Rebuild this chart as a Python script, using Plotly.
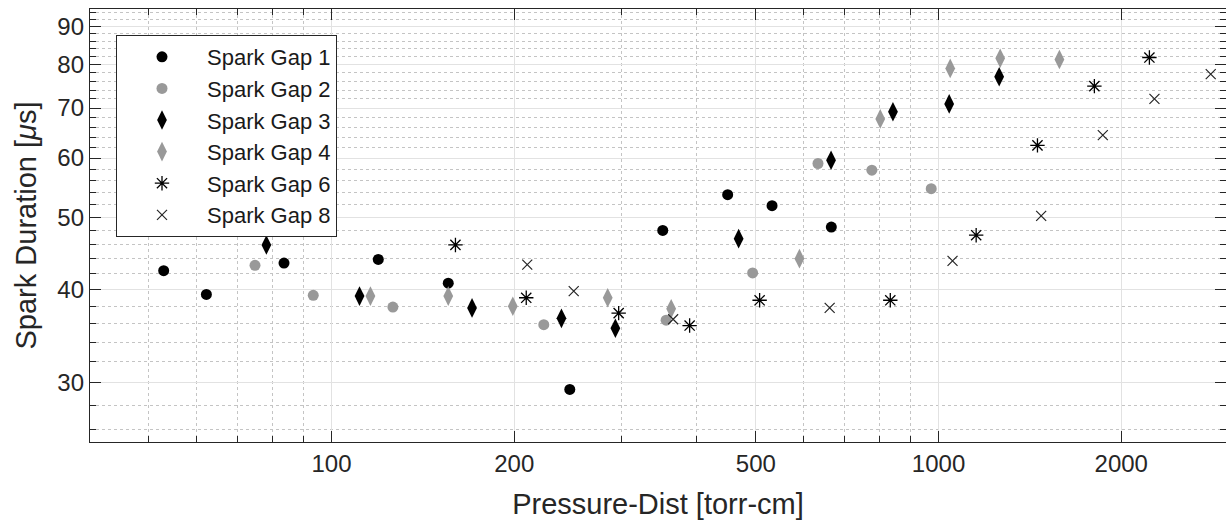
import numpy as np
import plotly.graph_objects as go

# ---- data ----
sg1_x = [52.9, 62.2, 83.5, 119.4, 155.7, 246.9, 351.3, 449.4, 531.8, 665.9]
sg1_y = [42.4, 39.4, 43.4, 43.9, 40.8, 29.4, 48.0, 53.6, 51.8, 48.5]

sg2_x = [74.8, 93.3, 126.2, 223.7, 355.8, 494.0, 633.0, 776.6, 972.7]
sg2_y = [43.1, 39.3, 37.9, 35.9, 36.4, 42.1, 59.0, 57.8, 54.6]

sg3_x = [78.1, 111.2, 170.4, 239.2, 293.5, 468.5, 665.2, 841.3, 1041.3, 1258.7]
sg3_y = [45.9, 39.2, 37.8, 36.6, 35.5, 46.8, 59.6, 69.2, 70.9, 77.1]

sg4_x = [115.9, 155.7, 198.9, 285.1, 362.7, 590.0, 801.7, 1045.4, 1263.6, 1581.9]
sg4_y = [39.2, 39.2, 38.0, 39.0, 37.7, 44.0, 67.7, 79.1, 81.6, 81.3]

sg6_x = [160.0, 209.3, 297.2, 389.0, 507.3, 832.8, 1153.5, 1455.5, 1806.3, 2225.5]
sg6_y = [45.9, 39.0, 37.2, 35.8, 38.7, 38.7, 47.3, 62.4, 74.9, 81.8]

sg8_x = [210.1, 250.6, 365.4, 661.7, 1054.6, 1476.1, 1865.0, 2268.6, 2808.5]
sg8_y = [43.2, 39.8, 36.5, 37.8, 43.7, 50.2, 64.4, 72.0, 77.7]

series_names = ["Spark Gap 1", "Spark Gap 2", "Spark Gap 3", "Spark Gap 4", "Spark Gap 6", "Spark Gap 8"]

x_tickvals = [100, 200, 500, 1000, 2000]
x_ticktext = ["100", "200", "500", "1000", "2000"]
x_minor = [50, 60, 70, 80, 90, 300, 400, 600, 700, 800, 900]

y_tickvals = [30, 40, 50, 60, 70, 80, 90]
y_ticktext = ["30", "40", "50", "60", "70", "80", "90"]
y_minor = [26, 28, 32, 34, 36, 38, 42, 44, 46, 48, 52, 54, 56, 58, 62, 64, 66, 68,
           72, 74, 76, 78, 82, 84, 86, 88, 92, 94]

# ---- styles ----
BLACK = "#000000"
GRAY = "#999999"
AX = "#262626"

styles = [
    dict(symbol="circle", size=11, color=BLACK),
    dict(symbol="circle", size=11, color=GRAY),
    dict(symbol="diamond-tall", size=14, color=BLACK),
    dict(symbol="diamond-tall", size=14, color=GRAY),
    dict(symbol="asterisk-open", size=12, color=BLACK, line=dict(width=1.3, color=BLACK)),
    dict(symbol="x-thin-open", size=10, color=AX, line=dict(width=1.2, color=AX)),
]

data = [(sg1_x, sg1_y), (sg2_x, sg2_y), (sg3_x, sg3_y), (sg4_x, sg4_y), (sg6_x, sg6_y), (sg8_x, sg8_y)]

fig = go.Figure()
for (xs, ys), name, st in zip(data, series_names, styles):
    fig.add_trace(go.Scatter(x=xs, y=ys, mode="markers", name=name, marker=st))

W, H = 1226, 527
ml, mr, mt, mb = 90, 0, 9, 85

fig.update_layout(
    width=W, height=H,
    margin=dict(l=ml, r=mr, t=mt, b=mb, pad=0),
    plot_bgcolor="white", paper_bgcolor="white",
    font=dict(family="Liberation Sans, Arial, sans-serif", color=AX),
    legend=dict(
        x=(116 - ml) / (W - ml - mr), y=(H - mb - 35) / (H - mt - mb),
        xanchor="left", yanchor="top",
        bgcolor="white", bordercolor=AX, borderwidth=1,
        font=dict(size=22, color="#1a1a1a"),
        itemwidth=80,
    ),
    showlegend=True,
)

common = dict(
    type="log", ticks="inside", ticklen=11, tickwidth=1, tickcolor=AX,
    showline=True, linecolor=AX, linewidth=1.3, mirror="ticks",
    showgrid=True, gridcolor="#e2e2e2", gridwidth=1, zeroline=False,
    tickfont=dict(size=24, color=AX),
)

fig.update_xaxes(
    **common,
    range=[np.log10(40), np.log10(2976)],
    tickvals=x_tickvals, ticktext=x_ticktext,
    minor=dict(tickvals=x_minor, ticks="inside", ticklen=6, tickcolor=AX,
               showgrid=True, gridcolor="#c4c4c4", griddash="dot", gridwidth=1),
    title=dict(text="Pressure-Dist [torr-cm]", font=dict(size=29, color=AX), standoff=17),
)
fig.update_yaxes(
    **common,
    range=[np.log10(25), np.log10(95)],
    tickvals=y_tickvals, ticktext=y_ticktext,
    minor=dict(tickvals=y_minor, ticks="inside", ticklen=6, tickcolor=AX,
               showgrid=True, gridcolor="#c4c4c4", griddash="dot", gridwidth=1),
    title=dict(text="Spark Duration [<i>μ</i>s]", font=dict(size=29, color=AX), standoff=12),
)

fig.write_html("out.html")
